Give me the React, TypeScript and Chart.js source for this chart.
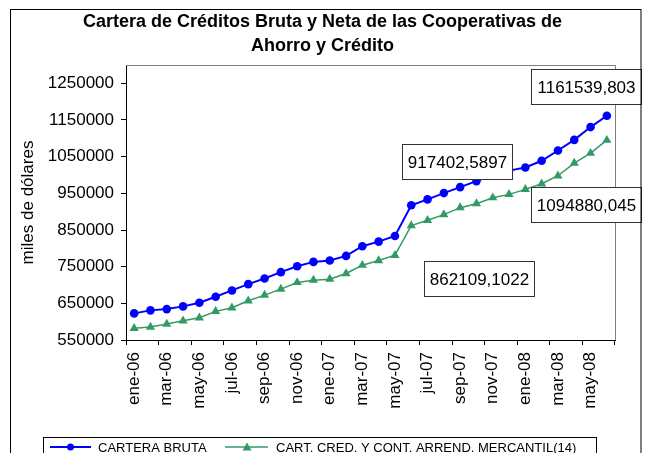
import React, { useEffect, useRef } from 'react';
import { Chart, registerables } from 'chart.js';

Chart.register(...registerables);

const FONT = '"Liberation Sans", Arial, sans-serif';

const months = [
  'ene-06', 'feb-06', 'mar-06', 'abr-06', 'may-06', 'jun-06', 'jul-06', 'ago-06', 'sep-06', 'oct-06', 'nov-06', 'dic-06',
  'ene-07', 'feb-07', 'mar-07', 'abr-07', 'may-07', 'jun-07', 'jul-07', 'ago-07', 'sep-07', 'oct-07', 'nov-07', 'dic-07',
  'ene-08', 'feb-08', 'mar-08', 'abr-08', 'may-08', 'jun-08',
];

const carteraBruta = [
  622600, 630800, 634300, 641700, 651500, 667800, 685200, 702300, 717800, 735000, 751300, 763000,
  766800, 779300, 805700, 818400, 833700, 917402.5897, 933500, 950700, 967000, 983300, 999000, 1012000,
  1020600, 1038800, 1066800, 1095900, 1130700, 1161539.803,
];

const carteraNeta = [
  581800, 585400, 593500, 602500, 610700, 628100, 637900, 656900, 672400, 688700, 706900, 713200,
  715900, 731400, 754000, 766600, 781200, 862109.1022, 876400, 891900, 910900, 921800, 938100, 947100,
  960700, 976200, 998000, 1032300, 1059500, 1094880.045,
];

const seriesNames = ['CARTERA BRUTA', 'CART. CRED. Y CONT. ARREND. MERCANTIL(14)'];
const titleLines = ['Cartera de Créditos Bruta y Neta de las Cooperativas de', 'Ahorro y Crédito'];
const yTitle = 'miles de dólares';
const yTicks = [550000, 650000, 750000, 850000, 950000, 1050000, 1150000, 1250000];
const yMin = 550000;
const yMax = 1300000;

// labelled points: dataset index, point index
const labelled = [
  { ds: 0, idx: 29, dx: -20.5, dy: -29.5 },
  { ds: 0, idx: 17, dx: 46, dy: -43.5 },
  { ds: 1, idx: 29, dx: -20.5, dy: 64 },
  { ds: 1, idx: 17, dx: 68, dy: 53 },
];

const BLUE = '#0000FF';
const GREEN = '#339966';

export default function App() {
  const ref = useRef<HTMLCanvasElement>(null);

  useEffect(() => {
    document.body.style.margin = '0';
    const canvas = ref.current!;

    const framePlugin = {
      id: 'frame',
      beforeDraw(chart: any) {
        const ctx = chart.ctx;
        ctx.save();
        ctx.fillStyle = '#fff';
        ctx.fillRect(0, 0, chart.width, chart.height);
        ctx.restore();
      },
      beforeDatasetsDraw(chart: any) {
        const { ctx, chartArea } = chart;
        ctx.save();
        ctx.strokeStyle = '#808080';
        ctx.lineWidth = 1;
        ctx.beginPath();
        ctx.moveTo(chartArea.left, Math.round(chartArea.top) + 0.5);
        ctx.lineTo(Math.round(chartArea.right) + 0.5, Math.round(chartArea.top) + 0.5);
        ctx.lineTo(Math.round(chartArea.right) + 0.5, chartArea.bottom);
        ctx.stroke();
        ctx.restore();
      },
      afterDatasetsDraw(chart: any) {
        const ctx = chart.ctx;
        ctx.save();
        ctx.font = `17px ${FONT}`;
        ctx.textAlign = 'center';
        ctx.textBaseline = 'middle';
        labelled.forEach((l) => {
          const pt = chart.getDatasetMeta(l.ds).data[l.idx];
          const v = chart.data.datasets[l.ds].data[l.idx] as number;
          const text = String(v).replace('.', ',');
          const w = 110;
          const h = 35;
          const cx = pt.x + l.dx;
          const cy = pt.y + l.dy;
          const x0 = Math.round(cx - w / 2) + 0.5;
          const y0 = Math.round(cy - h / 2) + 0.5;
          ctx.fillStyle = '#fff';
          ctx.fillRect(x0, y0, w, h);
          ctx.strokeStyle = '#333';
          ctx.lineWidth = 1;
          ctx.strokeRect(x0, y0, w, h);
          ctx.fillStyle = '#000';
          ctx.fillText(text, x0 + w / 2, y0 + h / 2 + 1);
        });
        ctx.restore();
      },
      afterDraw(chart: any) {
        const ctx = chart.ctx;
        ctx.save();
        // outer frame
        ctx.strokeStyle = '#000';
        ctx.lineWidth = 1;
        ctx.strokeRect(10.5, 9.5, 630.5, 470);
        // legend
        const ly = 447;
        ctx.strokeStyle = '#000';
        ctx.strokeRect(43.5, 437.5, 553, 40);
        ctx.font = `13px ${FONT}`;
        ctx.textBaseline = 'middle';
        ctx.textAlign = 'left';
        // series 1
        ctx.strokeStyle = BLUE;
        ctx.lineWidth = 2;
        ctx.beginPath();
        ctx.moveTo(50, ly);
        ctx.lineTo(91, ly);
        ctx.stroke();
        ctx.fillStyle = BLUE;
        ctx.beginPath();
        ctx.arc(70.5, ly, 3.5, 0, Math.PI * 2);
        ctx.fill();
        ctx.fillStyle = '#000';
        ctx.fillText(seriesNames[0], 98, ly + 1);
        // series 2
        ctx.strokeStyle = GREEN;
        ctx.lineWidth = 1.5;
        ctx.beginPath();
        ctx.moveTo(225, ly);
        ctx.lineTo(268, ly);
        ctx.stroke();
        ctx.fillStyle = GREEN;
        ctx.beginPath();
        ctx.moveTo(247, ly - 4.5);
        ctx.lineTo(251.5, ly + 3.5);
        ctx.lineTo(242.5, ly + 3.5);
        ctx.closePath();
        ctx.fill();
        ctx.fillStyle = '#000';
        ctx.fillText(seriesNames[1], 276, ly + 1);
        ctx.restore();
      },
    };

    const chart = new Chart(canvas, {
      type: 'line',
      data: {
        labels: months,
        datasets: [
          {
            label: seriesNames[0],
            data: carteraBruta,
            borderColor: BLUE,
            backgroundColor: BLUE,
            borderWidth: 2,
            pointStyle: 'circle',
            pointRadius: 4.3,
            pointBorderWidth: 0,
            pointBackgroundColor: BLUE,
            tension: 0,
            yAxisID: 'y',
          },
          {
            label: seriesNames[1],
            data: carteraNeta,
            borderColor: GREEN,
            backgroundColor: GREEN,
            borderWidth: 1.5,
            pointStyle: 'triangle',
            pointRadius: 5.3,
            pointBorderWidth: 0,
            pointBackgroundColor: GREEN,
            tension: 0,
            yAxisID: 'y',
          },
        ],
      },
      options: {
        responsive: false,
        animation: false,
        devicePixelRatio: 1,
        layout: { padding: { left: 0, right: 0, top: 0, bottom: 0 } },
        plugins: {
          legend: { display: false },
          tooltip: { enabled: false },
          title: {
            display: true,
            text: titleLines,
            color: '#000',
            font: { family: FONT, size: 18, weight: 'bold', lineHeight: 1.3 },
            padding: { top: 10.8, bottom: 7.4 },
          },
        },
        scales: {
          x: {
            type: 'category',
            offset: true,
            grid: {
              offset: true,
              drawOnChartArea: false,
              drawTicks: true,
              tickLength: 5,
              color: (ctx: any) =>
                ctx.index === undefined || ctx.type !== 'tick' || ctx.index % 2 === 0 ? '#000' : 'rgba(0,0,0,0)',
            },
            border: { display: true, color: '#000', width: 1 },
            ticks: {
              autoSkip: false,
              maxRotation: 90,
              minRotation: 90,
              padding: 7,
              color: '#000',
              font: { family: FONT, size: 17 },
              callback: (_v: any, i: number) => (i % 2 === 0 ? months[i] : ''),
            },
            afterFit: (s: any) => {
              s.height = 113;
            },
          },
          y: {
            type: 'linear',
            position: 'left',
            min: yMin,
            max: yMax,
            afterBuildTicks: (s: any) => {
              s.ticks = yTicks.map((v) => ({ value: v }));
            },
            grid: { drawOnChartArea: false, drawTicks: true, tickLength: 5, color: '#000' },
            border: { display: true, color: '#000', width: 1 },
            ticks: {
              padding: 7,
              color: '#000',
              font: { family: FONT, size: 17 },
              callback: (v: any) => String(v),
            },
            title: {
              display: true,
              text: yTitle,
              color: '#000',
              font: { family: FONT, size: 17 },
              padding: { top: 18, bottom: 0 },
            },
            afterFit: (s: any) => {
              s.width = 126;
            },
          },
          yRight: {
            type: 'linear',
            position: 'right',
            display: true,
            grid: { display: false, drawTicks: false },
            border: { display: false },
            ticks: { display: false },
            afterFit: (s: any) => {
              s.width = 30;
            },
          },
        },
      },
      plugins: [framePlugin],
    });

    return () => {
      chart.destroy();
    };
  }, []);

  return <canvas ref={ref} width={645} height={453} style={{ display: 'block', width: 645, height: 453 }} />;
}
